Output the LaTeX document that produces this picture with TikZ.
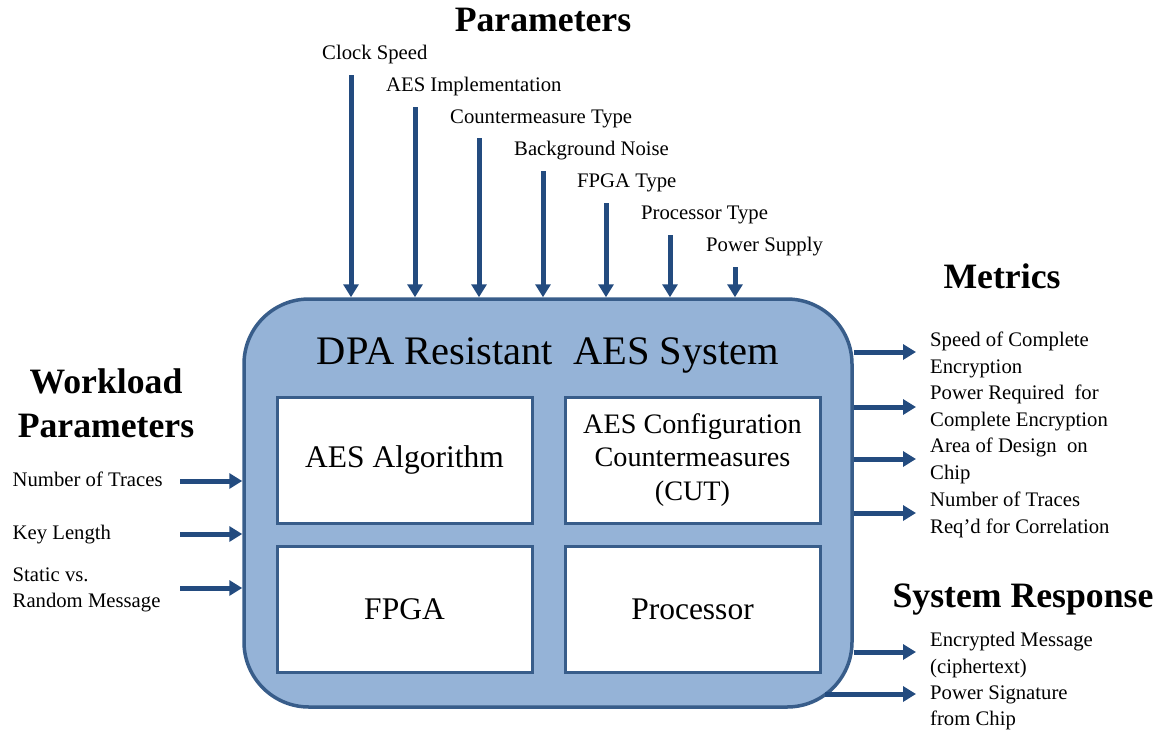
\documentclass[tikz,border=0pt]{standalone}
\usepackage{fontspec}
\setmainfont{Liberation Serif}
\usetikzlibrary{arrows.meta}
\definecolor{sysfill}{RGB}{149,179,215}
\definecolor{sysline}{RGB}{56,93,138}
\definecolor{arrowblue}{RGB}{35,75,127}
\begin{document}
\begin{tikzpicture}[x=1pt,y=-1pt,
  flow/.style={draw=arrowblue, line width=5pt, -{Triangle[length=13pt,width=15pt]}},
  lbl/.style={font=\fontsize{20.7}{26.3}\selectfont, inner sep=0pt, align=left},
  head/.style={font=\fontsize{35.7}{44}\selectfont\bfseries, inner sep=0pt, align=center},
  part/.style={draw=sysline, line width=3pt, fill=white, minimum width=255pt, minimum height=126pt, inner sep=0pt, align=center, font=\fontsize{31.5}{34}\selectfont},
]
\useasboundingbox (0,0) rectangle (1165,732);

% outer system box
\node[draw=sysline, line width=3.5pt, fill=sysfill, rounded corners=65pt,
      minimum width=608pt, minimum height=408pt, inner sep=0pt] (sys) at (548,503) {};
\node[font=\fontsize{40.5}{48}\selectfont, anchor=base, inner sep=0pt] (title) at (548,364) {DPA Resistant~~AES System};

% inner parts
\node[part] (alg) at (404.5,460) {AES Algorithm};
\node[part, font=\fontsize{28.2}{33.5}\selectfont] (cut) at (692.5,460) {AES Configuration\\Countermeasures\\(CUT)};
\node[part] (fpga) at (404.5,609) {FPGA};
\node[part] (proc) at (692.5,609) {Processor};

% headings
\node[head, anchor=base] (hpar) at (543,31) {Parameters};
\node[head, anchor=base] (hmet) at (1002,288) {Metrics};
\node[head, anchor=base] (hwork) at (106,393) {Workload};
\node[head, anchor=base] (hwork2) at (106,437) {Parameters};
\node[head, anchor=base] (hsys) at (1023,607) {System Response};

% top parameters
\foreach \i/\x/\ys/\yb/\t in {1/351/75/59/Clock Speed,
                                2/415/107/91/AES Implementation,
                                3/479/138/123/Countermeasure Type,
                                4/543/171/155/Background Noise,
                                5/606/203/187/FPGA Type,
                                6/670/235/219/Processor Type,
                                7/735/267/251/Power Supply}{
  \node[lbl, anchor=base west] (tl\i) at (\x-29,\yb) {\t};
  \coordinate (tp\i) at (\x,\ys);
  \draw[flow] (tp\i) -- (tp\i |- sys.north);
}

% workload parameters
\node[lbl, anchor=base west] (w1) at (12.5,486) {Number of Traces};
\node[lbl, anchor=base west] (w2) at (12.5,539) {Key Length};
\node[lbl, anchor=west] (w3) at (12.5,590) {Static vs.\\Random Message};
\coordinate (ws1) at (180,481);
\coordinate (ws2) at (180,534);
\coordinate (ws3) at (180,588);
\draw[flow] (ws1) -- (ws1 -| sys.west);
\draw[flow] (ws2) -- (ws2 -| sys.west);
\draw[flow] (ws3) -- (ws3 -| sys.west);

% metrics
\node[lbl, anchor=west] (m1) at (930,355) {Speed of Complete\\Encryption};
\node[lbl, anchor=west] (m2) at (930,408) {Power Required~ for\\Complete Encryption};
\node[lbl, anchor=west] (m3) at (930,461) {Area of Design~ on\\Chip};
\node[lbl, anchor=west] (m4) at (930,515) {Number of Traces\\Req'd for Correlation};
\coordinate (mt1) at (916,352);
\coordinate (mt2) at (916,407);
\coordinate (mt3) at (916,459);
\coordinate (mt4) at (916,513);
\draw[flow] (sys.east |- mt1) -- (mt1);
\draw[flow] (sys.east |- mt2) -- (mt2);
\draw[flow] (sys.east |- mt3) -- (mt3);
\draw[flow] (sys.east |- mt4) -- (mt4);

% system response
\node[lbl, anchor=west] (r1) at (930,655) {Encrypted Message\\(ciphertext)};
\node[lbl, anchor=west] (r2) at (930,708) {Power Signature\\from Chip};
\coordinate (rt1) at (916,652);
\coordinate (rt2) at (916,694);
\coordinate (rs2) at (825,694);
\draw[flow] (sys.east |- rt1) -- (rt1);
\draw[flow] (rs2) -- (rt2);
\end{tikzpicture}
\end{document}
